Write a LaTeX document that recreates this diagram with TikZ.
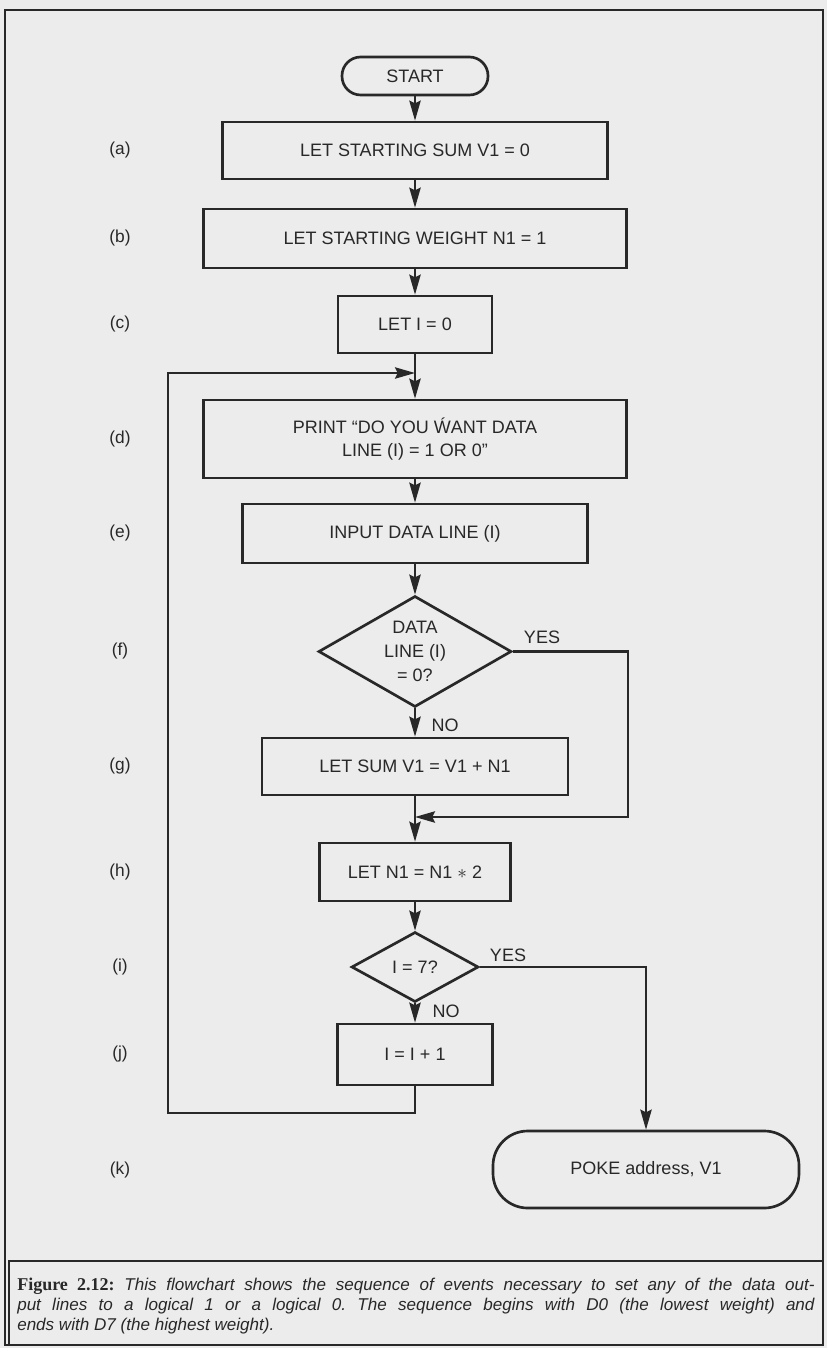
\documentclass[tikz,border=0pt]{standalone}
\usepackage{fontspec}
\setmainfont{Liberation Sans}
\newfontfamily\capserif{Liberation Serif}
\usetikzlibrary{shapes.geometric,arrows.meta}
\definecolor{ink}{RGB}{40,40,40}
\definecolor{paper}{RGB}{236,236,236}
\frenchspacing

\begin{document}
\begin{tikzpicture}[x=0.75pt,y=0.75pt,yscale=-1,xscale=1,
    every node/.style={text=ink},
    stepbox/.style 2 args={draw=ink,line width=2pt,rectangle,minimum width=#1*0.75pt,minimum height=#2*0.75pt,inner sep=0pt,align=center,font=\fontsize{13.5}{17.5}\selectfont},
    decision/.style 2 args={draw=ink,line width=2pt,diamond,aspect=1.7,minimum width=#1*0.75pt,minimum height=#2*0.75pt,inner sep=0pt,align=center,font=\fontsize{13.5}{18}\selectfont},
    terminal/.style n args={3}{draw=ink,line width=2pt,rectangle,rounded corners=#3,minimum width=#1*0.75pt,minimum height=#2*0.75pt,inner sep=0pt,font=\fontsize{13.5}{16}\selectfont},
    steplabel/.style={font=\fontsize{13}{15}\selectfont},
    answer/.style={font=\fontsize{13.5}{15}\selectfont},
    flow/.style={draw=ink,line width=1.6pt,-{Stealth[length=15pt,width=8.5pt,inset=2pt]}}]
        \useasboundingbox (0,0) rectangle (827,1348);
        \fill[paper] (0,0) rectangle (827,1348);
        \draw[ink,line width=1.2pt] (5,10) rectangle (823,1345);
        \draw[ink,line width=1.2pt] (9,1261) rectangle (823,1345);

        \node[terminal={146}{38}{14pt}] (st) at (415,76) {START};
        \node[stepbox={385}{57}] (sa) at (415,150.5) {LET STARTING SUM V1 = 0};
        \node[stepbox={423}{59}] (sb) at (415,238.5) {LET STARTING WEIGHT N1 = 1};
        \node[stepbox={154}{57}] (sc) at (415,324.5) {LET I = 0};
        \node[stepbox={423}{78}] (sd) at (415,439) {PRINT “DO YOU ẂANT DATA\\LINE (I) = 1 OR 0”};
        \node[stepbox={345}{59}] (se) at (415,533.5) {INPUT DATA LINE (I)};
        \node[decision={193}{111}] (sf) at (415,651.5) {DATA\\LINE (I)\\= 0?};
        \node[stepbox={306}{57}] (sg) at (415,766.5) {LET SUM V1 = V1 + N1};
        \node[stepbox={191}{58}] (sh) at (415,872) {LET N1 = N1 $\ast$ 2};
        \node[decision={127}{70}] (si) at (415,967) {I = 7?};
        \node[stepbox={155}{61}] (sj) at (415,1054.5) {I = I + 1};
        \node[terminal={306}{77}{26pt}] (sk) at (646,1169.5) {POKE address, V1};

        \foreach \t/\y in {a/150.5,b/238.5,c/324.5,d/439,e/533.5,f/651.5,g/766.5,h/872,i/967,j/1054.5,k/1169.5}
            \node[steplabel] (l\t) at (120,\y) {(\t)};

        \node[answer] (yf) at (542,637) {YES};
        \node[answer] (nf) at (445,725) {NO};
        \node[answer] (yi) at (508,955) {YES};
        \node[answer] (ni) at (446,1011) {NO};

        \coordinate (jn1) at (415,373);
        \coordinate (jn2) at (415,817);
        \coordinate (yr) at (628,817);
        \coordinate (lp) at (168,1113);

        \foreach \a/\b in {st/sa,sa/sb,sb/sc,sc/sd,sd/se,se/sf,sf/sg,sg/sh,sh/si,si/sj}
            \draw[flow] (\a) -- (\b);
        \draw[flow] (sf.east) -| (yr) -- (jn2);
        \draw[flow] (si.east) -| (sk.north);
        \draw[flow] (sj.south) |- (lp) |- (jn1);

        \node[anchor=north west,inner sep=0pt,text width=598pt,align=justify,font=\fontsize{12.8}{15}\selectfont\itshape] (cap) at (17,1278) {{\capserif\bfseries\upshape\fontsize{13.5}{15}\selectfont Figure 2.12:} This flowchart shows the sequence of events necessary to set any of the data out-\linebreak put lines to a logical 1 or a logical 0. The sequence begins with D0 (the lowest weight) and\linebreak ends with D7 (the highest weight).};
    \end{tikzpicture}
\end{document}
